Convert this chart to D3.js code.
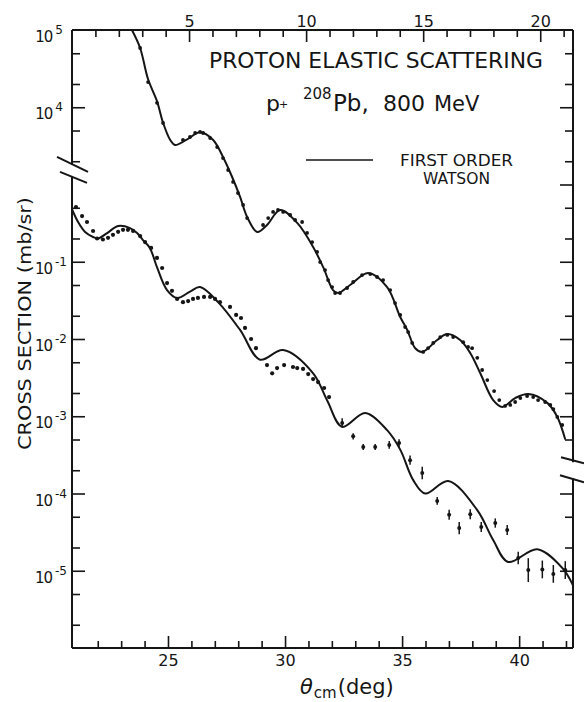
<!DOCTYPE html>
<meta charset="utf-8">
<script src="https://cdn.jsdelivr.net/npm/d3@7"></script>
<style>
  body { margin: 0; background: #fff; }
  svg text { font-family: "DejaVu Sans", sans-serif; fill: #151515; }
  .axis path.domain { display: none; }
  .axis line { stroke: #151515; stroke-width: 1.6; }
  .frame { stroke: #151515; stroke-width: 2; fill: none; }
  .curve { fill: none; stroke: #151515; stroke-width: 2; stroke-linejoin: round; }
</style>
<body>
<svg class="chart"></svg>
<script>
    ///////////////////////
    // Data
    // upper set: top axis angles (deg), cross section in mb/sr (upper labels)
    var upperCurveAngle = [2.56, 2.91, 3.25, 3.63, 3.89, 4.19, 4.40, 4.90, 5.47, 6.03, 6.45, 6.84, 7.18, 7.48, 7.91,
        8.33, 8.89, 9.62, 10.30, 10.73, 11.15, 11.37, 11.88, 12.65, 13.46, 14.02, 14.32, 14.66, 14.96, 15.60,
        16.03, 16.58, 17.01, 17.44, 17.99, 18.38, 18.93, 19.49, 20.30, 20.73, 21.07];
    var upperCurveXs = [1.0e5, 5.85e4, 2.3e4, 1.2e4, 6.3e3, 3.8e3, 3.25e3, 3.8e3, 4.75e3, 3.77e3, 2.27e3, 1.25e3, 690, 380, 243,
        300, 468, 318, 155, 85, 43, 39.4, 50, 71.5, 47, 19.3, 13.1, 7.6, 6.8, 9.7,
        11.6, 9.7, 6.6, 3.6, 1.62, 1.32, 1.72, 1.94, 1.49, 0.98, 0.5];

    var upperDotAngle = [2.91, 3.25, 3.63, 3.89, 4.74, 5.04, 5.26, 5.47, 5.60, 5.90, 6.20, 6.45, 6.67, 6.88, 7.09,
        7.31, 7.48, 8.16, 8.38, 8.59, 8.80, 9.02, 9.32, 9.53, 9.83, 10.04, 10.26, 10.47, 10.60, 10.81,
        10.94, 11.11, 11.24, 11.45, 11.75, 12.01, 12.39, 12.74, 13.03, 13.29, 13.59, 13.80, 14.02, 14.23, 14.36,
        14.53, 15.00, 15.21, 15.43, 15.73, 16.03, 16.28, 16.71, 16.92, 17.09, 17.31, 17.52, 17.74, 18.03, 18.25,
        18.50, 18.72, 18.93, 19.15, 19.44, 19.70, 19.91, 20.21, 20.43, 20.56, 20.73, 20.94];
    var upperDotXs = [5.85e4, 2.12e4, 1.14e4, 6.25e3, 3.77e3, 4.12e3, 4.64e3, 4.79e3, 4.64e3, 4.0e3, 3.05e3, 2.2e3, 1.54e3, 1.08e3, 776,
        543, 368, 299, 368, 441, 468, 441, 403, 347, 327, 236, 180, 134, 99, 78,
        58, 47, 39.4, 39.4, 45.7, 54.7, 67.3, 69.3, 63.5, 58, 43, 29.2, 20.5, 14.3, 12.3,
        8.9, 6.8, 7.64, 8.9, 10.6, 11.3, 10.6, 9.1, 7.9, 7.6, 5.7, 3.97, 2.94, 2.12, 1.62,
        1.36, 1.40, 1.53, 1.72, 1.83, 1.77, 1.62, 1.53, 1.40, 1.24, 0.98, 0.77];

    // lower set: bottom axis angles (deg), cross section in mb/sr
    var lowerCurveAngle = [20.90, 21.16, 21.46, 21.80, 22.01, 22.40, 22.87, 23.38, 23.68, 23.93, 24.23, 24.53, 24.96, 25.39,
        25.94, 26.37, 27.14, 28.08, 28.93, 29.92, 31.20, 31.80, 32.44, 33.42, 34.36, 34.92, 35.47, 35.99,
        36.97, 38.21, 38.89, 39.53, 40.77, 41.84, 42.30];
    var lowerCurveXs = [0.48, 0.327, 0.243, 0.209, 0.20, 0.235, 0.29, 0.273, 0.235, 0.191, 0.15, 0.085, 0.043, 0.034,
        0.041, 0.047, 0.030, 0.0131, 0.0054, 0.0072, 0.0036, 0.0016, 7.3e-4, 1.1e-3, 6.6e-4, 3.7e-4, 1.5e-4, 1.0e-4,
        1.45e-4, 6.1e-5, 2.5e-5, 1.3e-5, 1.9e-5, 1.09e-5, 6.5e-6];

    var lowerDotAngle = [21.07, 21.33, 21.54, 21.80, 21.97, 22.22, 22.44, 22.65, 22.87, 23.08, 23.29, 23.51, 23.81, 24.02,
        24.28, 24.53, 24.75, 24.96, 25.17, 25.39, 25.64, 25.86, 26.07, 26.28, 26.54, 26.80, 27.01, 27.22,
        27.65, 27.91, 28.12, 28.29, 28.55, 28.76, 29.23, 29.45, 29.66, 29.96, 30.34, 30.52, 30.77, 30.99,
        31.20, 31.41, 31.67, 31.88];
    var lowerDotXs = [0.51, 0.39, 0.327, 0.25, 0.20, 0.194, 0.204, 0.223, 0.244, 0.259, 0.259, 0.251, 0.215, 0.18,
        0.151, 0.112, 0.083, 0.053, 0.042, 0.033, 0.030, 0.031, 0.033, 0.034, 0.035, 0.035, 0.033, 0.030,
        0.026, 0.0205, 0.0187, 0.0139, 0.0100, 0.0076, 0.0046, 0.0036, 0.0042, 0.0046, 0.00434, 0.0042, 0.0041, 0.00352,
        0.00303, 0.00277, 0.00232, 0.00177];

    // lower set, points with error bars (error in decades)
    var lowerErrAngle = [32.44, 32.91, 33.34, 33.85, 34.45, 34.87, 35.34, 35.86, 36.50, 37.01, 37.44, 37.91, 38.38,
        38.98, 39.49, 39.96, 40.39, 40.99, 41.46, 41.97];
    var lowerErrXs = [8.2e-4, 5.5e-4, 4.0e-4, 4.0e-4, 4.25e-4, 4.5e-4, 2.7e-4, 1.84e-4, 8.0e-5, 5.3e-5, 3.57e-5, 5.4e-5, 3.68e-5,
        4.15e-5, 3.37e-5, 1.46e-5, 1.02e-5, 1.04e-5, 9.1e-6, 1.02e-5];
    var lowerErrDex = [0.06, 0.04, 0.04, 0.04, 0.05, 0.05, 0.06, 0.08, 0.05, 0.065, 0.08, 0.065, 0.065,
        0.06, 0.065, 0.08, 0.155, 0.115, 0.115, 0.115];

    // ticks
    var topMajor = [5, 10, 15, 20];
    var bottomMajor = [25, 30, 35, 40];
    var upperLabelled = [1e5, 1e4];
    var upperMinor = [5e4, 2e4, 5e3, 2e3];
    var lowerLabelled = [1e-1, 1e-2, 1e-3, 1e-4, 1e-5];
    var lowerMinor = [5e-1, 2e-1, 5e-2, 2e-2, 5e-3, 2e-3, 5e-4, 2e-4, 5e-5, 2e-5, 5e-6, 2e-6];

    ///////////////////////
    // Chart Size Setup
    var W = 584, H = 702;
    var pLeft = 72, pRight = 573, pTop = 30, pBottom = 648;

    var svg = d3.select(".chart")
        .attr("width", W)
        .attr("height", H);

    ///////////////////////
    // Scales
    var xBottom = d3.scaleLinear().domain([20.9, 42.3]).range([pLeft, pRight]);
    var xTop = d3.scaleLinear().domain([0, 21.4]).range([pLeft, pRight]);
    // lower data scale, upper data is drawn three decades higher on the same axis
    var yLow = d3.scaleLog().domain([1e-6, 1e2]).range([pBottom, pTop]);
    var yUp = d3.scaleLog().domain([1e-3, 1e5]).range([pBottom, pTop]);

    svg.append("clipPath").attr("id", "clip")
        .append("rect").attr("x", pLeft).attr("y", pTop)
        .attr("width", pRight - pLeft).attr("height", pBottom - pTop);

    ///////////////////////
    // Axes (ticks inward)
    var range1 = function(a, b) { return d3.range(a, b + 1); };

    function addAxis(axis, tx, ty) {
        return svg.append("g").attr("class", "axis")
            .attr("transform", "translate(" + tx + "," + ty + ")")
            .call(axis);
    }

    addAxis(d3.axisBottom(xBottom).tickValues(range1(22, 42).filter(function(d) { return d % 5; }))
        .tickSize(-7).tickFormat(""), 0, pBottom);
    addAxis(d3.axisBottom(xBottom).tickValues(bottomMajor).tickSize(-12).tickPadding(7), 0, pBottom)
        .selectAll("text").style("font-size", "16px").attr("fill", "#151515");

    addAxis(d3.axisTop(xTop).tickValues(range1(1, 21).filter(function(d) { return d % 5; }))
        .tickSize(-7).tickFormat(""), 0, pTop);
    addAxis(d3.axisTop(xTop).tickValues(topMajor).tickSize(-12).tickPadding(3), 0, pTop)
        .selectAll("text").style("font-size", "16px").attr("fill", "#151515");

    // left
    addAxis(d3.axisLeft(yUp).tickValues(upperMinor).tickSize(-8).tickFormat(""), pLeft, 0);
    addAxis(d3.axisLeft(yUp).tickValues(upperLabelled.slice(1)).tickSize(-13).tickFormat(""), pLeft, 0);
    addAxis(d3.axisLeft(yLow).tickValues(lowerMinor).tickSize(-8).tickFormat(""), pLeft, 0);
    addAxis(d3.axisLeft(yLow).tickValues(lowerLabelled).tickSize(-13).tickFormat(""), pLeft, 0);

    // right (no labels)
    addAxis(d3.axisRight(yUp).tickValues(upperMinor).tickSize(-8).tickFormat(""), pRight, 0);
    addAxis(d3.axisRight(yUp).tickValues([1e4, 1e3]).tickSize(-13).tickFormat(""), pRight, 0);
    addAxis(d3.axisRight(yLow).tickValues(lowerMinor.filter(function(d) { return d != 2e-4; }))
        .tickSize(-8).tickFormat(""), pRight, 0);
    addAxis(d3.axisRight(yLow).tickValues(lowerLabelled).tickSize(-13).tickFormat(""), pRight, 0);

    // power-of-ten labels
    function powLabel(x, y, exp) {
        var t = svg.append("text").attr("x", x).attr("y", y + 12)
            .attr("text-anchor", "end").style("font-size", "15px");
        t.append("tspan").text("10").attr("letter-spacing", "-1");
        t.append("tspan").text(exp).attr("dy", -8).attr("dx", 3).style("font-size", "12px");
    }
    upperLabelled.forEach(function(v) {
        powLabel(63, yUp(v), String(Math.round(Math.log10(v))));
    });
    lowerLabelled.forEach(function(v) {
        powLabel(67, yLow(v), String(Math.round(Math.log10(v))));
    });

    ///////////////////////
    // Frame with axis breaks
    var lBreak = yLow(1.5), rBreak = yLow(2e-4);
    var frame = [
        [[pLeft, pTop], [pRight, pTop]],
        [[pLeft, pBottom], [pRight, pBottom]],
        [[pLeft, pTop], [pLeft, lBreak - 6]],
        [[pLeft, lBreak + 6], [pLeft, pBottom]],
        [[pRight, pTop], [pRight, rBreak - 8]],
        [[pRight, rBreak + 8], [pRight, pBottom]],
        // break marks
        [[pLeft - 15, lBreak - 14], [pLeft + 16, lBreak + 1]],
        [[pLeft - 12, lBreak + 1], [pLeft + 15, lBreak + 12]],
        [[pRight - 12, rBreak - 13], [pRight + 11, rBreak - 7]],
        [[pRight - 13, rBreak + 5], [pRight + 11, rBreak + 12]]
    ];
    svg.append("g").selectAll("path").data(frame).enter().append("path")
        .attr("class", "frame")
        .attr("stroke-width", function(d, i) { return i > 5 ? 1.6 : 2; })
        .attr("d", d3.line());

    ///////////////////////
    // Curves
    var upLine = d3.line()
        .x(function(d) { return xTop(d[0]); })
        .y(function(d) { return yUp(d[1]); })
        .curve(d3.curveCatmullRom.alpha(0.5));
    var lowLine = d3.line()
        .x(function(d) { return xBottom(d[0]); })
        .y(function(d) { return yLow(d[1]); })
        .curve(d3.curveCatmullRom.alpha(0.5));

    var marks = svg.append("g").attr("clip-path", "url(#clip)");

    marks.append("path").attr("class", "curve")
        .datum(d3.zip(upperCurveAngle, upperCurveXs))
        .attr("d", upLine);
    marks.append("path").attr("class", "curve")
        .datum(d3.zip(lowerCurveAngle, lowerCurveXs))
        .attr("d", lowLine);

    ///////////////////////
    // Data points
    marks.append("g").selectAll("circle")
        .data(d3.zip(upperDotAngle, upperDotXs)).enter().append("circle")
        .attr("cx", function(d) { return xTop(d[0]); })
        .attr("cy", function(d) { return yUp(d[1]); })
        .attr("r", 1.9).attr("fill", "#151515");

    marks.append("g").selectAll("circle")
        .data(d3.zip(lowerDotAngle, lowerDotXs)).enter().append("circle")
        .attr("cx", function(d) { return xBottom(d[0]); })
        .attr("cy", function(d) { return yLow(d[1]); })
        .attr("r", 2.1).attr("fill", "#151515");

    var err = marks.append("g").selectAll("g")
        .data(d3.zip(lowerErrAngle, lowerErrXs, lowerErrDex)).enter().append("g");
    err.append("line")
        .attr("x1", function(d) { return xBottom(d[0]); })
        .attr("x2", function(d) { return xBottom(d[0]); })
        .attr("y1", function(d) { return yLow(d[1] * Math.pow(10, d[2])); })
        .attr("y2", function(d) { return yLow(d[1] / Math.pow(10, d[2])); })
        .attr("stroke", "#151515").attr("stroke-width", 1.5);
    err.append("circle")
        .attr("cx", function(d) { return xBottom(d[0]); })
        .attr("cy", function(d) { return yLow(d[1]); })
        .attr("r", 2).attr("fill", "#151515");

    ///////////////////////
    // Titles and labels
    function label(str, x, y, size, len) {
        var t = svg.append("text").text(str)
            .attr("x", x).attr("y", y)
            .style("font-size", size + "px");
        if (len) t.attr("textLength", len).attr("lengthAdjust", "spacingAndGlyphs");
        return t;
    }

    label("PROTON ELASTIC SCATTERING", 209, 68, 22, 334);

    // p + 208Pb, 800 MeV
    label("p", 266, 111, 22);
    label("+", 279, 108, 11);
    label("208", 303, 99, 15);
    label("Pb,", 333, 111, 23);
    label("800", 383, 111, 22);
    label("MeV", 434, 111, 21);

    svg.append("line")
        .attr("x1", 306).attr("x2", 373).attr("y1", 160).attr("y2", 160)
        .attr("stroke", "#151515").attr("stroke-width", 1.6);
    label("FIRST ORDER", 400, 166, 16, 113);
    label("WATSON", 423, 184, 15, 67);

    svg.append("text").text("CROSS SECTION (mb/sr)")
        .attr("transform", "translate(31,450) rotate(-90)")
        .attr("textLength", 253).attr("lengthAdjust", "spacingAndGlyphs")
        .style("font-size", "18px");

    var xl = svg.append("text").attr("x", 300).attr("y", 694).style("font-size", "21px");
    xl.append("tspan").text("\u03b8").style("font-style", "italic");
    xl.append("tspan").text("cm").style("font-size", "15px").attr("dy", 4).attr("dx", 1);
    xl.append("tspan").text("(deg)").attr("dy", -4).attr("dx", 1);
</script>
</body>
